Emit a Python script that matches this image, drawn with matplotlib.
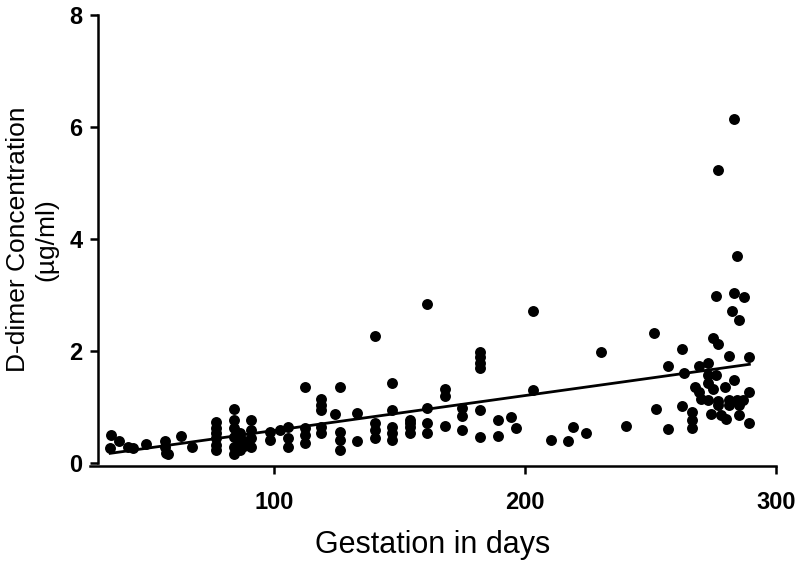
import numpy as np
import matplotlib
matplotlib.use("Agg")
import matplotlib.pyplot as plt

plt.rcParams["font.family"] = ["Liberation Sans", "DejaVu Sans"]

# gestation (days) and D-dimer (ug/ml)
gestation_days = [
    35.1, 38.4, 34.9, 42, 44, 49.3, 56.6, 56.6, 57, 58, 63.2, 67.6,
    77.2, 77.2, 77.2, 77.2, 77.2, 77.2,
    84, 84, 84, 84, 84, 84,
    86.5, 86.5, 86.5, 86.5, 88, 88,
    91.1, 91.1, 91.1, 91.1,
    98.4, 98.4, 102.4, 105.5, 105.5, 105.5,
    112.5, 112.5, 112.5, 112.5,
    119, 119, 119, 119, 119,
    124.3, 126.3, 126.3, 126.3, 126.3,
    133.2, 133.2,
    140.3, 140.3, 140.3, 140.3,
    147.3, 147.3, 147.3, 147.3, 147.3,
    154.2, 154.2, 154.2, 154.2,
    161.2, 161.2, 161.2, 161.2,
    168.1, 168.1, 168.1,
    175.1, 175.1, 175.1,
    182.1, 182.1, 182.1, 182.1, 182.1, 182.1,
    189.2, 189.2, 194.3, 196.4,
    203.3, 203.3, 210.4, 217.2, 219.2, 224.2,
    230.5, 240.3, 251.3, 252.3,
    257.1, 257.1, 262.4, 262.4, 263.3,
    266.4, 266.4, 266.4, 267.6,
    269.2, 269.2, 270.3,
    273, 273, 273, 273, 274,
    275, 275, 276.1, 276.1,
    277, 277, 277, 277, 278,
    279.7, 280.1,
    281.3, 281.3, 281.3, 282.4,
    283.3, 283.3, 283.3,
    284.3, 284.3,
    285.4, 285.4, 285.4, 286.7, 287.3,
    289.4, 289.4, 289.4,
]
ddimer = [
    0.50, 0.40, 0.27, 0.29, 0.27, 0.34, 0.39, 0.29, 0.18, 0.16, 0.48, 0.29,
    0.74, 0.62, 0.53, 0.44, 0.32, 0.23,
    0.96, 0.77, 0.62, 0.47, 0.29, 0.17,
    0.53, 0.45, 0.35, 0.23, 0.40, 0.30,
    0.77, 0.59, 0.45, 0.29,
    0.56, 0.41, 0.59, 0.65, 0.44, 0.29,
    1.35, 0.62, 0.50, 0.35,
    1.15, 1.04, 0.95, 0.65, 0.53,
    0.87, 1.36, 0.56, 0.41, 0.23,
    0.89, 0.40,
    2.27, 0.71, 0.59, 0.44,
    1.43, 0.95, 0.65, 0.53, 0.41,
    0.77, 0.71, 0.65, 0.53,
    2.84, 0.99, 0.71, 0.53,
    1.32, 1.20, 0.66,
    0.99, 0.84, 0.59,
    1.99, 1.89, 1.79, 1.69, 0.95, 0.46,
    0.77, 0.49, 0.82, 0.62,
    2.71, 1.30, 0.41, 0.40, 0.65, 0.53,
    1.98, 0.66, 2.33, 0.96,
    1.73, 0.60, 2.03, 1.02, 1.61,
    0.92, 0.77, 0.62, 1.36,
    1.74, 1.27, 1.14,
    1.78, 1.57, 1.43, 1.12, 0.88,
    2.23, 1.33, 2.98, 1.57,
    2.12, 5.23, 1.10, 1.04, 0.85,
    1.36, 0.78,
    1.91, 1.12, 1.04, 2.72,
    6.15, 3.03, 1.48,
    3.70, 1.12,
    2.55, 0.85, 1.04, 1.12, 2.96,
    1.89, 1.27, 0.72,
]

x_ticks = [100, 200, 300]
y_ticks = [0, 2, 4, 6, 8]

x = np.array(gestation_days)
y = np.array(ddimer)

# linear regression line over the observed range
slope, intercept = np.polyfit(x, y, 1)
fit_x = np.array([x.min(), x.max()])
fit_y = slope * fit_x + intercept

fig = plt.figure(figsize=(8, 5.64), dpi=100)
ax = fig.add_axes([0.112, 0.179, 0.858, 0.794])

ax.scatter(x, y, s=62, color="black", zorder=3, linewidths=0)
ax.plot(fit_x, fit_y, color="black", linewidth=2, zorder=4)

ax.set_xlim(26.7, 300)
ax.set_ylim(0, 8)
ax.set_xticks(x_ticks)
ax.set_yticks(y_ticks)

ax.spines["top"].set_visible(False)
ax.spines["right"].set_visible(False)
ax.spines["left"].set_position(("data", 30))
ax.spines["bottom"].set_position(("outward", 2))
for side in ["left", "bottom"]:
    ax.spines[side].set_linewidth(1.8)

ax.tick_params(width=1.8, length=6, labelsize=17)
ax.tick_params(axis="x", pad=12)
ax.tick_params(axis="y", pad=5)
for lbl in ax.get_xticklabels() + ax.get_yticklabels():
    lbl.set_fontweight("bold")

ax.set_xlabel("Gestation in days", fontsize=22, labelpad=12)
ax.set_ylabel("D-dimer Concentration\n(µg/ml)", fontsize=19)
ax.yaxis.set_label_coords(-0.046, 0.5)

fig.savefig("out.png", dpi=100)
